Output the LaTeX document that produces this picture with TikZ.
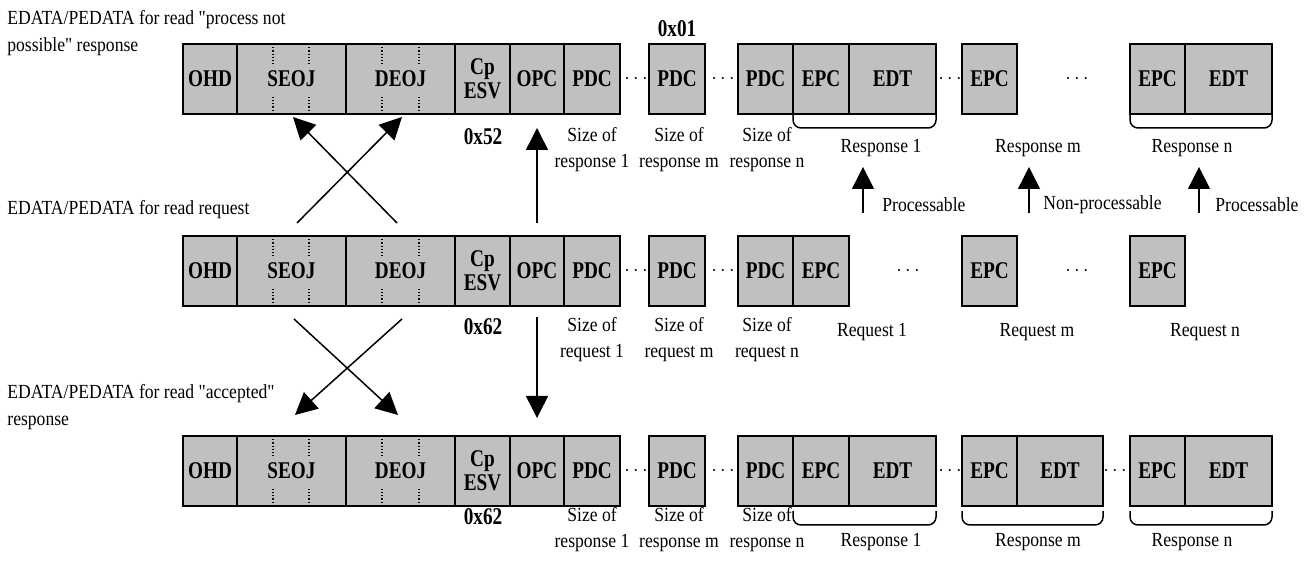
\documentclass[tikz,border=0pt]{standalone}
\usepackage{fontspec}
\setmainfont{Liberation Serif}[FakeStretch=0.88,Ligatures=TeXOff]
\newfontfamily\cellfont{Liberation Serif}[FakeStretch=0.8]
\usepackage{tikz}
\usetikzlibrary{arrows.meta,calc}
\definecolor{CellGray}{RGB}{192,192,192}

\begin{document}
\begin{tikzpicture}[x=0.5pt,y=-0.5pt,>={Triangle[length=11pt,width=11pt]},
  cell/.style={draw,fill=CellGray,line width=1pt,inner sep=0pt,outer sep=0pt,
    minimum height=35pt,minimum width=#1*0.5pt,anchor=north west,align=center,
    font=\cellfont\fontsize{12}{12}\selectfont\bfseries},
  lbl/.style={font=\fontsize{10}{13}\selectfont,align=center,inner sep=0pt},
  title/.style={font=\fontsize{10}{13.5}\selectfont,align=left,anchor=west,inner sep=0pt},
  hex/.style={font=\cellfont\fontsize{12}{12}\selectfont\bfseries,inner sep=0pt},
  flow/.style={->,line width=0.75pt},
  brace/.style={line width=0.75pt,rounded corners=4pt},
  sep/.style={densely dotted,line width=0.6pt}]
  \useasboundingbox (0,0) rectangle (1315,565);

  % rows of fields: t = "process not possible", m = request, b = "accepted"
  \foreach \r/\y in {t/44,m/236,b/436}{
    \node[cell=54] (\r-ohd) at (183,\y) {OHD};
    \node[cell=109] (\r-seoj) at (237,\y) {SEOJ};
    \node[cell=109] (\r-deoj) at (346,\y) {DEOJ};
    \node[cell=55] (\r-esv) at (455,\y) {Cp\\ESV};
    \node[cell=54] (\r-opc) at (510,\y) {OPC};
    \node[cell=56] (\r-pdc1) at (564,\y) {PDC};
    \node[cell=56] (\r-pdcm) at (649,\y) {PDC};
    \node[cell=55] (\r-pdcn) at (738,\y) {PDC};
    \node[cell=56] (\r-epc1) at (793,\y) {EPC};
    \node[cell=55] (\r-epcm) at (962,\y) {EPC};
    \node[cell=55] (\r-epcn) at (1130,\y) {EPC};
    \node (\r-dots1) at (636,\y+35) {$\cdots$};
    \node (\r-dots2) at (723,\y+35) {$\cdots$};
    \foreach \dx in {273,309,382,419}{
      \draw[sep] (\dx,\y) -- ++(0,20);
      \draw[sep] (\dx,\y+70) -- ++(0,-18);
    }
  }
  \node[cell=87] (t-edt1) at (849,44) {EDT};
  \node[cell=87] (t-edtn) at (1185,44) {EDT};
  \node (t-dots3) at (950,79) {$\cdots$};
  \node (t-dots4) at (1077,79) {$\cdots$};
  \node (m-dots3) at (908,271) {$\cdots$};
  \node (m-dots4) at (1077,271) {$\cdots$};
  \node[cell=87] (b-edt1) at (849,436) {EDT};
  \node[cell=86] (b-edtm) at (1017,436) {EDT};
  \node[cell=87] (b-edtn) at (1185,436) {EDT};
  \node (b-dots3) at (950,471) {$\cdots$};
  \node (b-dots4) at (1115,471) {$\cdots$};

  % braces
  \draw[brace] (t-epc1.south west) -- ++(0,14) -| (t-edt1.south east);
  \draw[brace] (t-epcn.south west) -- ++(0,14) -| (t-edtn.south east);
  \draw[brace] ([yshift=-2.5pt]b-epc1.south west) -- ++(0,14) -| ([yshift=-2.5pt]b-edt1.south east);
  \draw[brace] ([yshift=-2.5pt]b-epcm.south west) -- ++(0,14) -| ([yshift=-2.5pt]b-edtm.south east);
  \draw[brace] ([yshift=-2.5pt]b-epcn.south west) -- ++(0,14) -| ([yshift=-2.5pt]b-edtn.south east);

  % titles
  \node[title] (t-title) at (7,33.5) {EDATA/PEDATA for read "process not\\possible" response};
  \node[title] (m-title) at (7,210) {EDATA/PEDATA for read request};
  \node[title] (b-title) at (7,407.5) {EDATA/PEDATA for read "accepted"\\response};

  % values and sizes
  \node[hex] (t-pdcval) at (677,29) {0x01};
  \node[hex] (t-esvval) at (483,137) {0x52};
  \node[hex] (m-esvval) at (483,327) {0x62};
  \node[hex] (b-esvval) at (483,517) {0x62};
  \node[lbl] (t-size1) at (592,150) {Size of\\response 1};
  \node[lbl] (t-sizem) at (679,150) {Size of\\response m};
  \node[lbl] (t-sizen) at (767,150) {Size of\\response n};
  \node[lbl] (m-size1) at (592,340) {Size of\\request 1};
  \node[lbl] (m-sizem) at (679,340) {Size of\\request m};
  \node[lbl] (m-sizen) at (767,340) {Size of\\request n};
  \node[lbl] (b-size1) at (592,530) {Size of\\response 1};
  \node[lbl] (b-sizem) at (679,530) {Size of\\response m};
  \node[lbl] (b-sizen) at (767,530) {Size of\\response n};
  \node[lbl] (t-resp1) at (881,148) {Response 1};
  \node[lbl] (t-respm) at (1038,148) {Response m};
  \node[lbl] (t-respn) at (1192,148) {Response n};
  \node[lbl] (m-req1) at (872,332) {Request 1};
  \node[lbl] (m-reqm) at (1037,332) {Request m};
  \node[lbl] (m-reqn) at (1205,332) {Request n};
  \node[lbl] (b-resp1) at (881,542) {Response 1};
  \node[lbl] (b-respm) at (1038,542) {Response m};
  \node[lbl] (b-respn) at (1192,542) {Response n};

  % crossing arrows between the object fields
  \coordinate (up-a) at (297,223);
  \coordinate (up-b) at (402,117);
  \coordinate (up-c) at (397,223);
  \coordinate (up-d) at (293,117);
  \draw[flow] (up-a) -- (up-b);
  \draw[flow] (up-c) -- (up-d);
  \coordinate (dn-a) at (294,319);
  \coordinate (dn-b) at (398,415);
  \coordinate (dn-c) at (402,319);
  \coordinate (dn-d) at (295,415);
  \draw[flow] (dn-a) -- (dn-b);
  \draw[flow] (dn-c) -- (dn-d);
  \draw[flow,shorten <=6.5pt,shorten >=7pt] (m-opc.north) -- (t-opc.south);
  \draw[flow,shorten <=5.5pt,shorten >=9pt] (m-opc.south) -- (b-opc.north);

  % processing result
  \foreach \ax/\lx/\txt [count=\i] in {863/882/Processable,1029/1043/Non-processable,1199/1215/Processable}{
    \coordinate (res\i-a) at (\ax,213);
    \coordinate (res\i-b) at (\ax,167);
    \draw[flow] (res\i-a) -- (res\i-b);
    \node[lbl,anchor=west] (res\i-txt) at (\lx,205) {\txt};
  }
\end{tikzpicture}
\end{document}
